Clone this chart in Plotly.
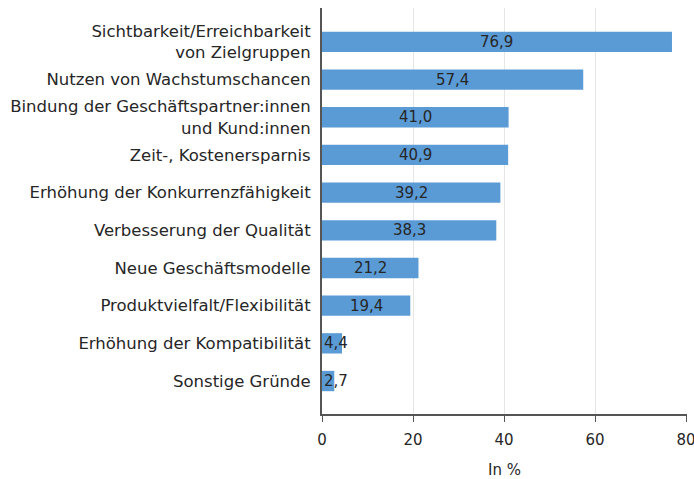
import plotly.graph_objects as go

# Reasons, top to bottom, with the share of respondents in percent
categories = [
    "Sichtbarkeit/Erreichbarkeit<br>von Zielgruppen",
    "Nutzen von Wachstumschancen",
    "Bindung der Geschäftspartner:innen<br>und Kund:innen",
    "Zeit-, Kostenersparnis",
    "Erhöhung der Konkurrenzfähigkeit",
    "Verbesserung der Qualität",
    "Neue Geschäftsmodelle",
    "Produktvielfalt/Flexibilität",
    "Erhöhung der Kompatibilität",
    "Sonstige Gründe",
]
values = [76.9, 57.4, 41.0, 40.9, 39.2, 38.3, 21.2, 19.4, 4.4, 2.7]
x_ticks = [0, 20, 40, 60, 80]

FONT = "DejaVu Sans"
TEXT = "#262626"
BAR = "#5B9BD5"


def de(v):
    return f"{v:.1f}".replace(".", ",")


fig = go.Figure(
    go.Bar(
        x=values,
        y=categories,
        orientation="h",
        marker=dict(color=BAR, line=dict(width=0)),
        width=0.54,
        textposition="none",
        hoverinfo="skip",
    )
)

# value labels: centred in the bar, or starting at the bar base when the bar is too short
annotations = []
for cat, v in zip(categories, values):
    small = v < 8
    annotations.append(
        dict(
            x=0 if small else v / 2,
            y=cat,
            xref="x",
            yref="y",
            text=de(v),
            showarrow=False,
            xanchor="left" if small else "center",
            yanchor="middle",
            font=dict(family=FONT, size=15, color=TEXT),
        )
    )

fig.update_layout(
    width=694,
    height=479,
    margin=dict(l=322, r=7, t=8, b=65, autoexpand=False),
    paper_bgcolor="white",
    plot_bgcolor="white",
    showlegend=False,
    font=dict(family=FONT, size=15, color=TEXT),
    annotations=annotations,
    xaxis=dict(
        range=[0, 80.2],
        tickvals=x_ticks,
        ticktext=[str(t) for t in x_ticks],
        automargin=False,
        showgrid=True,
        gridcolor="#e6e6e6",
        gridwidth=1,
        showline=True,
        linecolor="#555555",
        linewidth=1.5,
        ticks="outside",
        ticklen=6,
        tickcolor="#555555",
        zeroline=False,
        ticklabeloverflow="allow",
        ticklabelstandoff=5,
        title=dict(text="In %", font=dict(family=FONT, size=15, color=TEXT), standoff=17),
        tickfont=dict(family=FONT, size=15, color=TEXT),
    ),
    yaxis=dict(
        type="category",
        categoryorder="array",
        categoryarray=categories,
        range=[9.875, -0.9],
        automargin=False,
        showgrid=False,
        showline=True,
        linecolor="#555555",
        linewidth=2,
        ticks="",
        ticklabelstandoff=6,
        tickfont=dict(family=FONT, size=16.5, color=TEXT),
    ),
)

fig.write_html("out.html")
